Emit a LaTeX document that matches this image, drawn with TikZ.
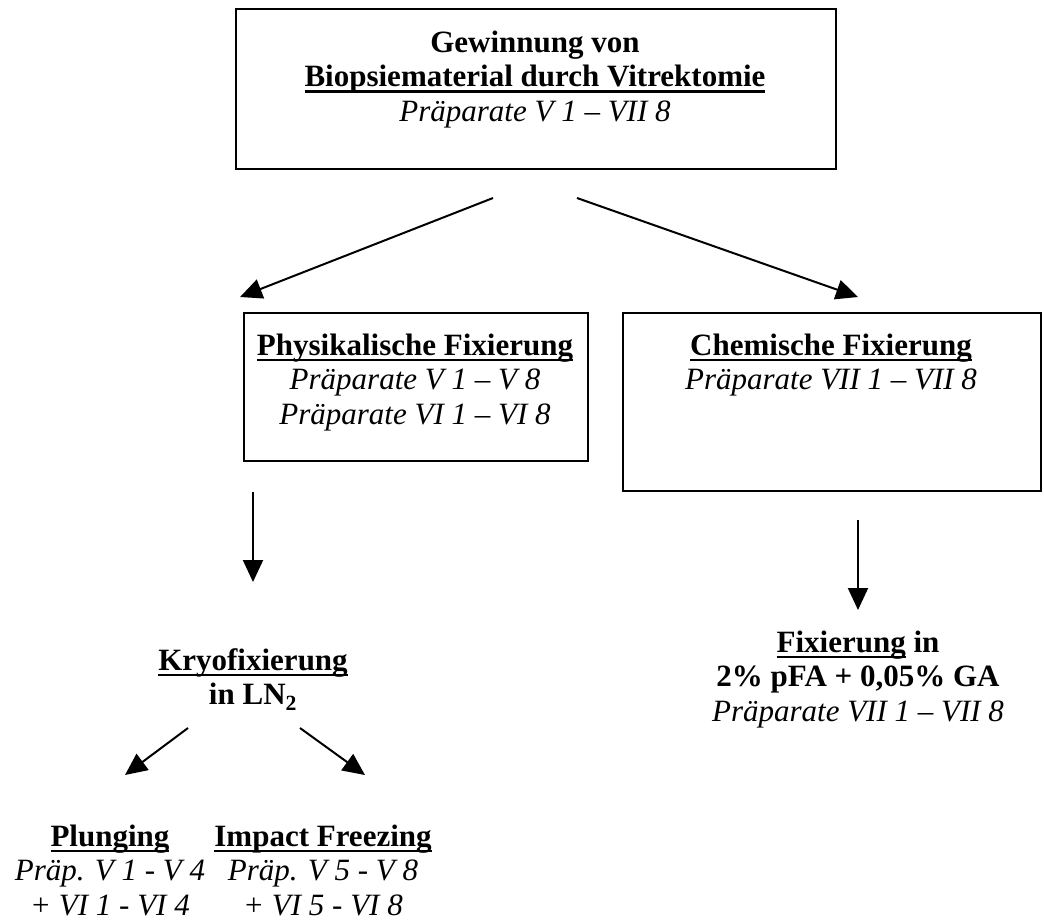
\documentclass[tikz,border=0pt]{standalone}
\usepackage{fontspec}
\setmainfont{Liberation Serif}
\usetikzlibrary{arrows.meta}
\newcommand\ulx[1]{\setbox0\hbox{#1}\rlap{\rule[-6pt]{\wd0}{2.6pt}}\box0{}}
\begin{document}
\begin{tikzpicture}[x=1pt,y=-1pt,
  box/.style={draw,line width=2.4pt,inner sep=0pt,anchor=north west},
  txt/.style={align=center,inner sep=0pt,anchor=north,font=\fontsize{31}{34.5}\selectfont},
  arr/.style={line width=2pt,-{Triangle[length=22pt,width=20pt]}}]
\useasboundingbox (0,0) rectangle (1044,922);
% boxes
\node[box,minimum width=600pt,minimum height=160pt] (topbox) at (235,8) {};
\node[box,minimum width=344pt,minimum height=148pt] (physbox) at (243,312) {};
\node[box,minimum width=418pt,minimum height=178pt] (chembox) at (622,312) {};
% texts
\node[txt] (toptxt) at (535,28) {\strut\textbf{Gewinnung von}\\\textbf{\ulx{Biopsiematerial durch Vitrektomie}}\\\textit{Präparate V 1 – VII 8}};
\node[txt] (phystxt) at (415,331) {\strut\textbf{\ulx{Physikalische Fixierung}}\\\textit{Präparate V 1 – V 8}\\\textit{Präparate VI 1 – VI 8}};
\node[txt] (chemtxt) at (831,331) {\strut\textbf{\ulx{Chemische Fixierung}}\\\textit{Präparate VII 1 – VII 8}};
\node[txt] (kryo) at (253,646) {\strut\textbf{\ulx{Kryofixierung}}\\\textbf{in LN\textsubscript{2}}};
\node[txt] (fixin) at (858,628) {\strut\textbf{\ulx{Fixierung} in}\\\textbf{2\% pFA + 0,05\% GA}\\\textit{Präparate VII 1 – VII 8}};
\node[txt] (plung) at (110,822) {\strut\textbf{\ulx{Plunging}}\\\textit{Präp. V 1 - V 4}\\\textit{+ VI 1 - VI 4}};
\node[txt] (impact) at (323,822) {\strut\textbf{\ulx{Impact Freezing}}\\\textit{Präp. V 5 - V 8}\\\textit{+ VI 5 - VI 8}};
% arrow end points
\coordinate (a1s) at (493,198); \coordinate (a1e) at (240,297);
\coordinate (a2s) at (577,198); \coordinate (a2e) at (858,297);
\coordinate (a3s) at (253,492); \coordinate (a3e) at (253,582);
\coordinate (a4s) at (858,520); \coordinate (a4e) at (858,610);
\coordinate (a5s) at (188,728); \coordinate (a5e) at (125,775);
\coordinate (a6s) at (300,728); \coordinate (a6e) at (365,775);
\draw[arr] (a1s) -- (a1e);
\draw[arr] (a2s) -- (a2e);
\draw[arr] (a3s) -- (a3e);
\draw[arr] (a4s) -- (a4e);
\draw[arr] (a5s) -- (a5e);
\draw[arr] (a6s) -- (a6e);
\end{tikzpicture}
\end{document}
